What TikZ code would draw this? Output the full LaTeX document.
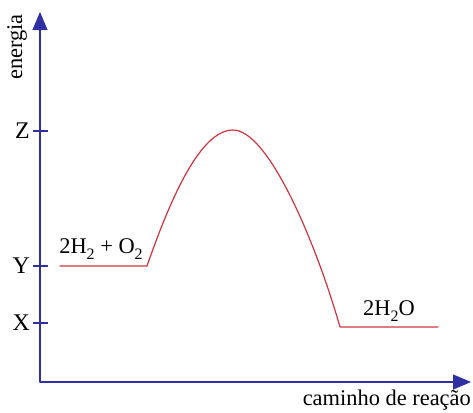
\documentclass[tikz,border=0pt]{standalone}
\usepackage{fontspec}
\setmainfont{Liberation Serif}
\usetikzlibrary{arrows.meta}

\definecolor{axisblue}{RGB}{48,48,160}
\definecolor{curvered}{RGB}{204,52,64}

% lowered index, as in the formulas
\newcommand{\lowidx}[1]{\raisebox{-0.28em}{\fontsize{16}{16}\selectfont #1}}

\begin{document}
\begin{tikzpicture}[
			x=1bp, y=-1bp,
			line cap=round,
			line join=round,
			font=\fontsize{22.5}{26}\selectfont,
			axisline/.style={draw=axisblue, line width=1.1bp},
			axistip/.style={-{Triangle[length=18bp,width=15bp]}},
			levelline/.style={draw=curvered, line width=1.2bp}
			]
			\useasboundingbox (0,0) rectangle (473,412);
			
			% Axes
			\coordinate (o) at (40,382);
			\coordinate (ytop) at (40,12);
			\coordinate (xend) at (471,382);
			\draw[axisline, axistip] (o) -- (ytop);
			\draw[axisline, axistip] (o) -- (xend);
			\node[rotate=90] (elab) at (17,47) {energia};
			\node[anchor=base east, inner sep=0pt] (clab) at (471,405) {caminho de reação};
			
			% Energy levels on the vertical axis
			\foreach \name/\lvl in {Z/131, Y/266, X/323}
			{
				\draw[axisline, line cap=butt] (33,\lvl) -- (48,\lvl);
				\node[anchor=east, inner sep=0pt, font=\fontsize{24}{28}\selectfont] (lvl\name) at (30,\lvl) {\name};
			}
			
			% Reaction profile
			\coordinate (r0) at (60,266);
			\coordinate (r1) at (147,266);
			\coordinate (peak) at (233,130);
			\coordinate (p0) at (340,327);
			\coordinate (p1) at (438,327);
			\draw[levelline]
			(r0) -- (r1)
			.. controls (170,200) and (200,130) .. (peak)
			.. controls (268,130) and (315,240) .. (p0)
			-- (p1);
			
			% Species
			\node (reag) at (101,249) {2H\lowidx{2} + O\lowidx{2}};
			\node (prod) at (389,311) {2H\lowidx{2}O};
		\end{tikzpicture}
\end{document}
